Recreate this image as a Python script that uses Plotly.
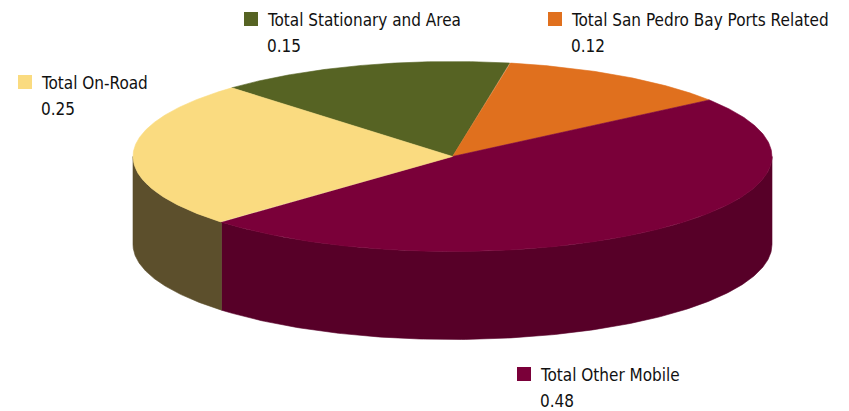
import numpy as np
import plotly.graph_objects as go

# ---- data ----
categories = ["Total Stationary and Area", "Total San Pedro Bay Ports Related",
              "Total Other Mobile", "Total On-Road"]
values = [0.15, 0.12, 0.48, 0.25]

# ---- styles ----
top_colors = ["#566323", "#E0701E", "#7A0039", "#FADB80"]
side_colors = ["#3E4719", "#A35015", "#570028", "#5C4F2C"]

# ---- geometry (layout) ----
CX, CY, RX, RY, DEPTH = 452.5, 156.5, 319.5, 95.0, 88.0
START_DEG = 133.7  # first slice starts here, slices go clockwise

# label layout: (marker x, text baseline y) for each category
label_pos = [(244, 27), (548, 27), (517, 382), (18, 90)]
FONT = "DejaVu Sans Condensed, Liberation Sans Narrow, sans-serif"
FS = 17


def pt(deg, dz=0.0):
    r = np.radians(deg)
    return CX + RX * np.cos(r), CY - RY * np.sin(r) + dz


fig = go.Figure()

total = sum(values)
bounds = []
a = START_DEG
for v in values:
    a1 = a - 360.0 * v / total
    bounds.append((a, a1))
    a = a1

# sides (front, lower half) first
for (a0, a1), col in zip(bounds, side_colors):
    for k in (-1, 0, 1):
        lo = max(a1, -180 + 360 * k)
        hi = min(a0, 360 * k)
        if lo < hi:
            ang = np.linspace(lo, hi, 200)
            xs_t, ys_t = pt(ang)
            xs_b, ys_b = pt(ang[::-1], DEPTH)
            xs = np.concatenate([xs_t, xs_b, xs_t[:1]])
            ys = np.concatenate([ys_t, ys_b, ys_t[:1]])
            fig.add_trace(go.Scatter(x=xs, y=ys, mode="lines", fill="toself",
                                     fillcolor=col, line=dict(color=col, width=0.6),
                                     hoverinfo="skip", showlegend=False))

# top faces
for (a0, a1), col, name, v in zip(bounds, top_colors, categories, values):
    ang = np.linspace(a0, a1, 300)
    xs, ys = pt(ang)
    xs = np.concatenate([[CX], xs, [CX]])
    ys = np.concatenate([[CY], ys, [CY]])
    fig.add_trace(go.Scatter(x=xs, y=ys, mode="lines", fill="toself",
                             fillcolor=col, line=dict(color=col, width=0.6),
                             name=name, text=f"{name}: {v}", hoverinfo="text",
                             showlegend=False))

# labels
for (mx, by), col, name, v in zip(label_pos, top_colors, categories, values):
    fig.add_shape(type="rect", x0=mx, x1=mx + 14, y0=by - 15, y1=by - 1,
                  fillcolor=col, line=dict(width=0), layer="above")
    fig.add_annotation(x=mx + 21, y=by - 7, text=name, showarrow=False,
                       xanchor="left", yanchor="middle",
                       font=dict(family=FONT, size=FS, color="#111111"))
    fig.add_annotation(x=mx + 21, y=by + 19, text=f"{v:.2f}", showarrow=False,
                       xanchor="left", yanchor="middle",
                       font=dict(family=FONT, size=FS, color="#111111"))

fig.update_layout(
    width=849, height=411,
    margin=dict(l=0, r=0, t=0, b=0),
    paper_bgcolor="white", plot_bgcolor="white",
    xaxis=dict(range=[0, 849], visible=False, fixedrange=True),
    yaxis=dict(range=[411, 0], visible=False, fixedrange=True),
    showlegend=False,
)

fig.write_html("out.html")
